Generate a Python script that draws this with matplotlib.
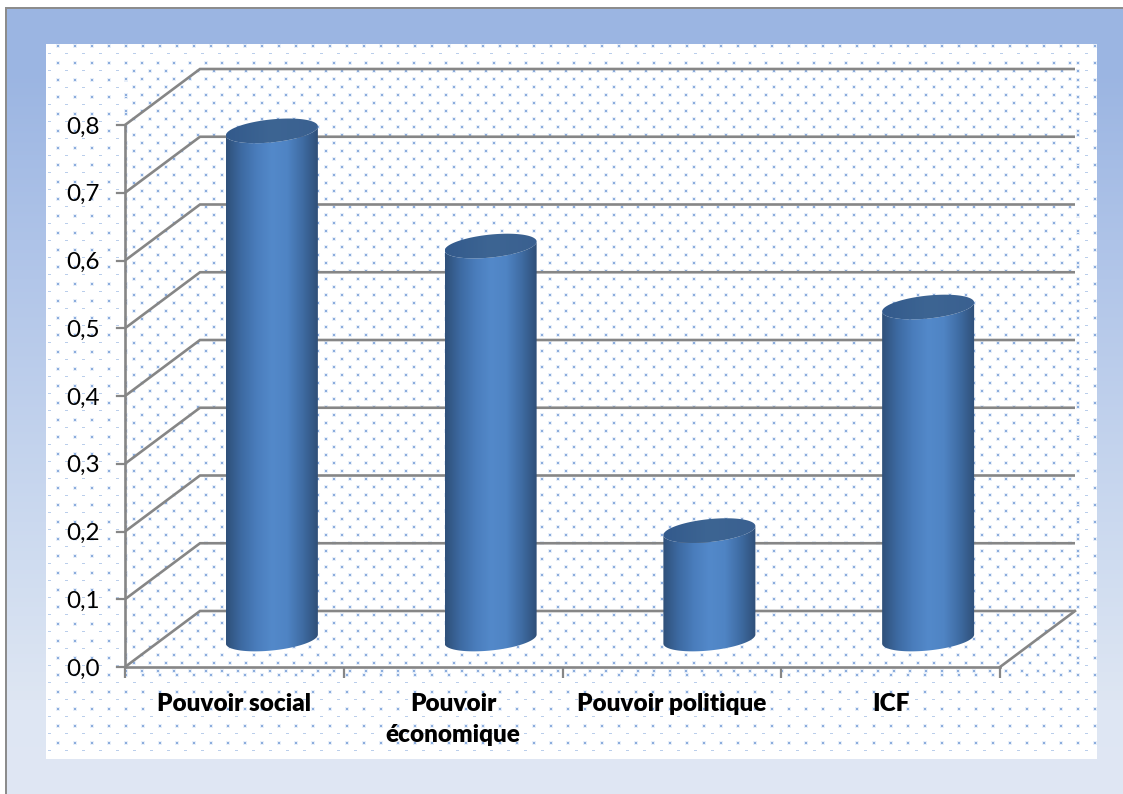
import numpy as np
import matplotlib
matplotlib.use("Agg")
import matplotlib.pyplot as plt
from matplotlib.colors import LinearSegmentedColormap
from matplotlib.patches import Polygon

categories = ["Pouvoir social", "Pouvoir\néconomique", "Pouvoir politique", "ICF"]
values = [0.75, 0.58, 0.16, 0.49]
y_ticks = [0.0, 0.1, 0.2, 0.3, 0.4, 0.5, 0.6, 0.7, 0.8]

W, H = 1123, 794
plt.rcParams['font.family'] = ['Lato', 'DejaVu Sans']


##### background : gradient, white panel and the dotted pattern
def make_background():
    img = np.ones((H, W, 3))
    stops_y = [0, 70, 240, 560, 700, 794]
    stops_c = np.array([[155, 181, 226], [155, 181, 226], [174, 195, 232],
                        [207, 220, 240], [222, 230, 243], [224, 231, 244]]) / 255.
    for c in range(3):
        img[:, :, c] = np.interp(np.arange(H), stops_y, stops_c[:, c])[:, None]
    img[:8, :] = 1
    img[:, :6] = 1
    img[7:9, 6:] = 0.55
    img[7:, 5:7] = 0.55
    img[44:759, 46:1097] = 1

    dot = np.array([0.55, 0.68, 0.87])
    halo = np.array([0.91, 0.94, 0.98])

    def put(x, y, big=True):
        if not (46 <= x < 1097 and 44 <= y < 759):
            return
        if big:
            img[max(y - 1, 44):y + 3, max(x - 1, 46):min(x + 3, 1097)] = halo
            img[y:y + 2, x:min(x + 2, 1097)] = dot
        else:
            img[y, x:min(x + 3, 1097)] = dot * 0.6 + 0.4

    inner = (125, 1075, 60, 672)
    for i, y in enumerate(np.arange(45, 759, 8.5)):
        y = int(y)
        for x in np.arange(48, 1097, 17):
            x = int(x) + (9 if i % 2 == 0 else 0)
            if inner[0] < x < inner[1] and inner[2] < y < inner[3]:
                continue
            put(x, y, big=(i % 2 == 0))
    for i, y in enumerate(np.arange(62, 672, 8)):
        for x in np.arange(125, 1078, 16):
            put(int(x) + (8 if i % 2 else 0), int(y))
    return img


fig = plt.figure(figsize=(W / 100, H / 100), dpi=100)
bg = fig.add_axes([0, 0, 1, 1], zorder=0)
bg.imshow(make_background(), interpolation='nearest', aspect='auto')
bg.axis('off')

##### front plane of the 3d box
left, right, top, bottom = 125, 1000, 125, 667
ax = fig.add_axes([left / W, 1 - bottom / H, (right - left) / W, (bottom - top) / H], zorder=1)
ax.patch.set_alpha(0)
n = len(categories)
px_x = n / (right - left)              # data units for one pixel
px_y = 0.8 / (bottom - top)
dx, dy = 75 * px_x, 56 * px_y          # depth of the box

grey = '#868686'
cyl_cmap = LinearSegmentedColormap.from_list(
    'cyl', ['#2f5079', '#3d6aa2', '#4a7dbc', '#5389ca', '#4f84c4', '#3f6ca3', '#2f4f78'])
top_cmap = LinearSegmentedColormap.from_list('captop', ['#335a8c', '#3d6593', '#3a6090'])
grad = np.linspace(0, 1, 256)[None, :]

for v in y_ticks:
    ax.plot([0, dx, n + dx], [v, v + dy, v + dy], color=grey, lw=1.9, zorder=2,
            clip_on=False, solid_capstyle='butt', solid_joinstyle='miter')
    ax.plot([-8 * px_x, 0], [v, v], color=grey, lw=1.6, zorder=2, clip_on=False)
ax.plot([n, n + dx], [0, dy], color=grey, lw=1.9, zorder=2, clip_on=False)

t = np.linspace(0, 2 * np.pi, 180)
half_w, half_h = 46 * px_x, 11.5 * px_y
tilt = 4.5 * px_y                      # the ellipses lean up to the right
for i, v in enumerate(values):
    cx = i + 0.5 + dx / 2
    base = dy / 2
    ex = np.cos(t) * half_w
    ey = np.sin(t) * half_h + np.cos(t) * tilt
    lower = t[(t >= np.pi)]
    lx = np.cos(lower) * half_w
    ly = np.sin(lower) * half_h + np.cos(lower) * tilt
    ux = lx[::-1]
    uy = ly[::-1]
    body = np.column_stack([np.r_[cx + lx, cx + ux], np.r_[base + ly, v + base + uy]])
    patch = Polygon(body, closed=True, transform=ax.transData, facecolor='none', edgecolor='none')
    ax.add_patch(patch)
    im = ax.imshow(grad, cmap=cyl_cmap, aspect='auto', zorder=3, interpolation='bilinear',
                   extent=[cx - half_w, cx + half_w, base - 0.05, v + base + 0.05])
    im.set_clip_box(fig.bbox)   # cap of the tallest one goes over the axes
    im.set_clip_path(patch)
    cap = Polygon(np.column_stack([cx + ex, v + base + ey]), closed=True, transform=ax.transData,
                  facecolor='none', edgecolor='none')
    ax.add_patch(cap)
    im2 = ax.imshow(grad, cmap=top_cmap, aspect='auto', zorder=4, interpolation='bilinear',
                    extent=[cx - half_w, cx + half_w, v + base - 0.05, v + base + 0.05])
    im2.set_clip_box(fig.bbox)
    im2.set_clip_path(cap)

ax.set_xlim(0, n)
ax.set_ylim(0, 0.8)
ax.set_yticks(y_ticks)
ax.set_yticklabels([f"{v:.1f}".replace('.', ',') for v in y_ticks], fontsize=17.5, color='black')
ax.set_xticks(np.arange(n + 1))
ax.set_xticklabels([])
ax.tick_params(axis='y', length=0, pad=18)
ax.tick_params(axis='x', length=8, width=1.6, color=grey)
for s in ['top', 'right']:
    ax.spines[s].set_visible(False)
for s in ['left', 'bottom']:
    ax.spines[s].set_color(grey)
    ax.spines[s].set_linewidth(1.9)
for i, c in enumerate(categories):
    ax.annotate(c, (i + 0.5, 0), xytext=(0, -18.5), xycoords='data', textcoords='offset points',
                ha='center', va='top', fontsize=17.5, fontweight=800, linespacing=1.5,
                color='black')

fig.savefig('out.png', dpi=100)
